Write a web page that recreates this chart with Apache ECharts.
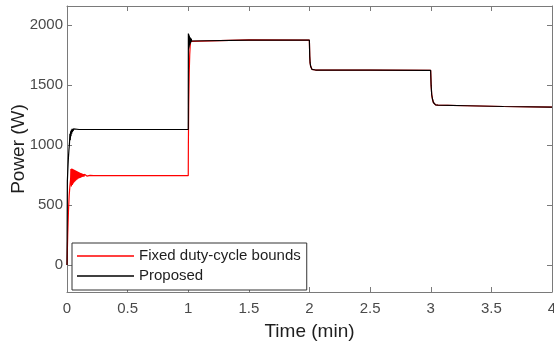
<!DOCTYPE html>
<html>
<head>
<meta charset="utf-8">
<script src="https://cdn.jsdelivr.net/npm/echarts@6/dist/echarts.min.js"></script>
<style>
  html, body { margin: 0; padding: 0; background: #ffffff; }
  #chart { width: 554px; height: 343px; }
</style>
</head>
<body>
<div id="chart"></div>
<script>
// Output power of the converter under the two control schemes (time in minutes, power in W)

// Fixed duty-cycle bounds
const timeFixed = [
  0, 0.006, 0.012, 0.018, 0.024, 0.03,
  0.032, 0.036, 0.040, 0.044, 0.048, 0.052, 0.056, 0.060, 0.064, 0.068,
  0.072, 0.076, 0.080, 0.084, 0.088, 0.092, 0.096, 0.100, 0.104, 0.108,
  0.112, 0.116, 0.120, 0.124, 0.128, 0.132, 0.136, 0.140, 0.144, 0.148,
  0.152, 0.156, 0.160, 0.164, 0.168, 0.172, 0.176, 0.180, 0.190, 0.22,
  0.5, 1.0,
  1.001, 1.004, 1.008, 1.012, 1.016, 1.020, 1.026, 1.035, 1.5, 1.999,
  2.0, 2.002, 2.005, 2.010, 2.015, 2.020, 2.030, 2.05, 2.5, 2.999,
  3.0, 3.003, 3.008, 3.015, 3.022, 3.030, 3.040, 3.06, 3.3, 3.6, 4.0
];
const powerFixed = [
  0, 250, 450, 580, 660, 720,
  800, 655, 805, 668, 800, 680, 796, 690, 792, 699,
  788, 707, 784, 713, 779, 719, 775, 723, 771, 727,
  767, 731, 764, 734, 761, 736, 758, 738, 756, 740,
  754, 741, 752, 742, 750, 743, 749, 744, 747, 746,
  745, 745,
  1000, 1350, 1600, 1750, 1830, 1865, 1878, 1880, 1877, 1875,
  1875, 1740, 1685, 1655, 1640, 1632, 1627, 1626, 1625, 1624,
  1624, 1500, 1420, 1380, 1355, 1342, 1336, 1333, 1328, 1322, 1317
];

// Proposed scheme
const timeProposed = [
  0, 0.003, 0.008, 0.012, 0.016, 0.020,
  0.024, 0.027, 0.030, 0.033, 0.036, 0.039, 0.042, 0.045, 0.048, 0.051,
  0.054, 0.057, 0.060, 0.065, 0.070, 0.1, 0.5, 1.0,
  1.001, 1.003, 1.005, 1.007, 1.009, 1.011, 1.013, 1.015, 1.017, 1.019,
  1.021, 1.023, 1.025, 1.028, 1.032, 1.040, 1.5, 1.999,
  2.0, 2.002, 2.005, 2.010, 2.015, 2.020, 2.030, 2.05, 2.5, 2.999,
  3.0, 3.003, 3.008, 3.015, 3.022, 3.030, 3.040, 3.06, 3.3, 3.6, 4.0
];
const powerProposed = [
  0, 700, 820, 900, 960, 1010,
  1095, 1040, 1115, 1075, 1128, 1095, 1135, 1110, 1136, 1118,
  1135, 1124, 1134, 1128, 1131, 1130, 1130, 1130,
  1930, 1800, 1922, 1815, 1912, 1830, 1902, 1842, 1895, 1852,
  1890, 1860, 1886, 1868, 1882, 1877, 1876, 1875,
  1875, 1740, 1685, 1655, 1640, 1632, 1627, 1626, 1625, 1624,
  1624, 1500, 1420, 1380, 1355, 1342, 1336, 1333, 1328, 1322, 1317
];

const seriesNames = ['Fixed duty-cycle bounds', 'Proposed'];
const yTicks = [0, 500, 1000, 1500, 2000];

const FONT = 'Liberation Sans, Arial, Helvetica, sans-serif';
const AXIS_COLOR = '#7a7a7a';
const LABEL_COLOR = '#4a4a4a';

function zip(xs, ys) {
  return xs.map((x, i) => [x, ys[i]]);
}

const axisLine = { show: true, onZero: false, lineStyle: { color: AXIS_COLOR, width: 1 } };
const tickInside = { show: true, inside: true, length: 5, lineStyle: { color: AXIS_COLOR, width: 1 } };

const chart = echarts.init(document.getElementById('chart'), null, { renderer: 'canvas' });

chart.setOption({
  animation: false,
  backgroundColor: '#ffffff',
  grid: { left: 67, right: 2, top: 6, bottom: 51, containLabel: false, outerBoundsMode: 'none' },
  xAxis: [
    {
      type: 'value', position: 'bottom', min: 0, max: 4, interval: 0.5,
      axisLine: axisLine, axisTick: tickInside,
      axisLabel: { color: LABEL_COLOR, fontSize: 15, fontFamily: FONT, margin: 9 },
      splitLine: { show: false },
      name: 'Time (min)', nameLocation: 'middle', nameGap: 30, nameMoveOverlap: false,
      nameTextStyle: { color: '#1e1e1e', fontSize: 19, fontFamily: FONT }
    },
    {
      type: 'value', position: 'top', min: 0, max: 4, interval: 0.5,
      axisLine: axisLine, axisTick: tickInside,
      axisLabel: { show: false }, splitLine: { show: false }
    }
  ],
  yAxis: [
    {
      type: 'value', position: 'left', min: -225, max: 2160,
      axisLine: axisLine,
      axisTick: Object.assign({}, tickInside, { customValues: yTicks }),
      axisLabel: {
        color: LABEL_COLOR, fontSize: 15, fontFamily: FONT, margin: 4,
        customValues: yTicks, formatter: v => String(v)
      },
      splitLine: { show: false },
      name: 'Power (W)', nameLocation: 'middle', nameGap: 39, nameMoveOverlap: false,
      nameTextStyle: { color: '#1e1e1e', fontSize: 19, fontFamily: FONT }
    },
    {
      type: 'value', position: 'right', min: -225, max: 2160,
      axisLine: axisLine,
      axisTick: Object.assign({}, tickInside, { customValues: yTicks }),
      axisLabel: { show: false }, splitLine: { show: false }
    }
  ],
  legend: {
    orient: 'vertical', left: 72, top: 243,
    padding: [5, 6, 6, 5], itemGap: 4, itemWidth: 57, itemHeight: 1.3,
    icon: 'rect',
    borderColor: '#333333', borderWidth: 1, borderRadius: 0, backgroundColor: '#ffffff',
    textStyle: { color: '#1e1e1e', fontSize: 15, fontFamily: FONT, lineHeight: 16 },
    data: seriesNames
  },
  series: [
    {
      name: seriesNames[0], type: 'line', xAxisIndex: 0, yAxisIndex: 0,
      data: zip(timeFixed, powerFixed), showSymbol: false, symbol: 'none',
      lineStyle: { color: '#ff0000', width: 1.2 }, itemStyle: { color: '#ff0000' }, z: 2
    },
    {
      name: seriesNames[1], type: 'line', xAxisIndex: 0, yAxisIndex: 0,
      data: zip(timeProposed, powerProposed), showSymbol: false, symbol: 'none',
      lineStyle: { color: '#000000', width: 1.2 }, itemStyle: { color: '#000000' }, z: 3
    }
  ]
});
</script>
</body>
</html>
